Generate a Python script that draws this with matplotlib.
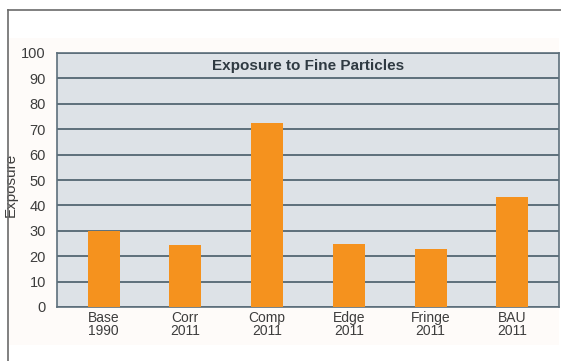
import matplotlib.pyplot as plt
from matplotlib.patches import Rectangle
from matplotlib.lines import Line2D

plt.rcParams['font.family'] = ['Liberation Sans', 'DejaVu Sans']

categories = ['Base\n1990', 'Corr\n2011', 'Comp\n2011', 'Edge\n2011', 'Fringe\n2011', 'BAU\n2011']
exposure = [30, 24.3, 72.5, 25, 22.8, 43.2]
yticks = list(range(0, 101, 10))

fig = plt.figure(figsize=(5.61, 3.61), dpi=100)

# faint backdrop + outer frame lines
fig.patches.append(Rectangle((8 / 561, 1 - 345 / 361), 551 / 561, 307 / 361,
                             transform=fig.transFigure, facecolor='#fefbf9',
                             edgecolor='none', zorder=-5))
fig.lines.append(Line2D([8 / 561, 1], [1 - 10 / 361, 1 - 10 / 361],
                        transform=fig.transFigure, color='#6b6b6b', lw=1.2))
fig.lines.append(Line2D([8 / 561, 8 / 561], [0, 1 - 10 / 361],
                        transform=fig.transFigure, color='#6b6b6b', lw=1.2))

ax = fig.add_axes((57 / 561, 1 - 307 / 361, 502 / 561, 254 / 361))
ax.set_facecolor('#dde2e7')
x = range(len(categories))
ax.bar(x, exposure, width=0.39, color='#f5921e', zorder=3)

ax.set_xlim(-0.57, 5.57)
ax.set_ylim(0, 100)
ax.set_yticks(yticks)
ax.set_xticks(list(x))
ax.set_xticklabels(categories, fontsize=10, color='#3d3d3d', linespacing=0.9)
ax.tick_params(axis='y', labelsize=10.5, labelcolor='#3d3d3d', length=0, pad=8)
ax.tick_params(axis='x', length=0, pad=3)
ax.grid(axis='y', color='#5d6f7b', lw=1.4, zorder=1)
for s in ax.spines.values():
    s.set_color('#5d6f7b')
    s.set_linewidth(1.2)

ax.set_ylabel('Exposure', fontsize=11, color='#3d3d3d')
ax.yaxis.set_label_coords((18 - 57) / 502, 0.48)
ax.text(0.5, 0.95, 'Exposure to Fine Particles', transform=ax.transAxes,
        ha='center', va='center', fontsize=11, fontweight='bold', color='#2f3a42')

fig.savefig('out.png', dpi=100)
